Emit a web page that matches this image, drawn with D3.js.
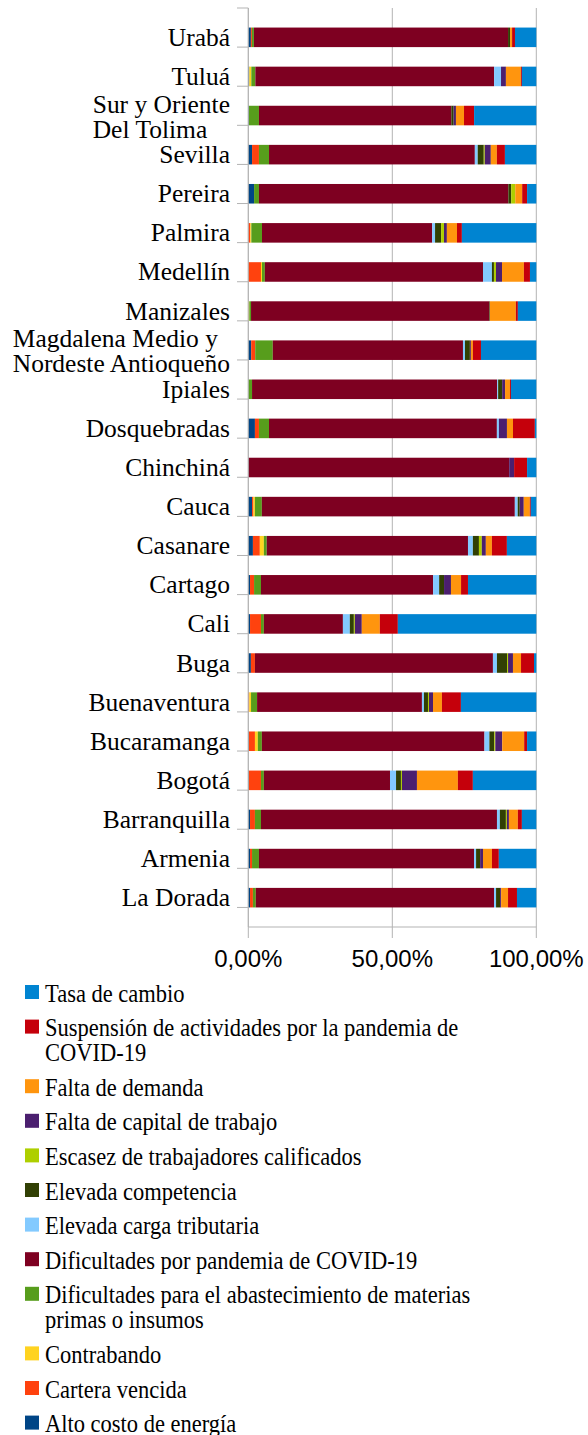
<!DOCTYPE html>
<html>
<head>
<meta charset="utf-8">
<script src="https://cdn.jsdelivr.net/npm/d3@7"></script>
<style>
  body { margin: 0; background: #fff; }
  svg { display: block; }
</style>
</head>
<body>
<div id="chart"></div>
<script>
// categories top to bottom ("\n" = label line break)
var categories = ["Urabá", "Tuluá", "Sur y Oriente\nDel Tolima", "Sevilla", "Pereira", "Palmira",
  "Medellín", "Manizales", "Magdalena Medio y\nNordeste Antioqueño", "Ipiales", "Dosquebradas",
  "Chinchiná", "Cauca", "Casanare", "Cartago", "Cali", "Buga", "Buenaventura", "Bucaramanga",
  "Bogotá", "Barranquilla", "Armenia", "La Dorada"]

// series values (percent), same order as categories
var altoCosto      = [0.9,0.35,0.2,1.3,2.0,0,0,0,1.0,0,2.3,0,1.3,1.6,0.6,0.6,0.9,0,0.2,0.2,0.6,0.6,0.6]
var carteraVencida = [0.35,0,0,2.4,0,0.7,4.4,0,1.4,0,1.4,0,0.5,2.4,1.4,3.8,1.4,0.35,2.1,4.2,1.7,0.7,1.0]
var contrabando    = [0,0.7,0,0,0,0.35,0.35,0.35,0,0,0,0,0.5,1.4,0,0,0,0.6,1.0,0,0,0,0]
var abastecimiento = [0.7,1.4,3.5,3.5,1.7,3.7,1.0,0.6,6.1,1.3,3.5,0,2.4,1.0,2.4,1.0,0,2.1,1.4,1.0,2.1,2.4,1.0]
var pandemia       = [88.2,82.9,66.8,71.5,86.5,59.0,75.7,82.8,66.0,85.1,79.2,90.5,87.8,69.8,59.7,27.4,82.6,57.3,77.1,43.75,81.9,74.65,82.6]
var cargaTrib      = [0,2.4,0,1.0,0,1.0,3.1,0,0.7,0.35,0.7,0,1.0,1.7,2.1,2.4,1.4,0.7,1.7,2.1,1.0,0.7,0.7]
var competencia    = [0.7,0,0.8,2.1,1.0,2.1,0.7,0.2,1.7,1.4,0,0,0.7,2.1,1.7,1.4,3.5,1.4,1.7,1.7,2.1,1.4,1.4]
var escasez        = [0,0,0,0.35,1.4,1.0,0.7,0,0,0,0,0,0,1.0,0,0.35,0.35,0.35,0.35,0.35,0.35,0,0]
var capital        = [0,1.7,0.8,2.1,0,1.0,2.1,0,0.35,1.0,2.8,1.7,1.4,1.4,2.4,2.4,1.7,1.4,2.4,5.2,0.7,1.0,0.35]
var demanda        = [0.7,5.2,2.8,2.1,2.4,3.5,7.6,9.0,0.7,1.7,2.1,0,2.1,2.1,3.5,6.25,2.8,3.1,7.6,14.2,3.1,3.1,2.4]
var suspension     = [1.0,0.35,3.5,2.8,1.7,1.7,2.1,0.7,2.8,0.35,7.6,4.5,0.35,5.2,2.4,6.25,4.5,6.6,1.0,5.2,1.4,2.4,3.1]
var tasaCambio     = [7.4,5.0,21.6,10.9,3.2,25.8,2.2,6.4,19.2,8.8,0.5,3.2,1.9,10.2,23.7,48.0,0.8,26.2,3.2,22.0,5.0,13.0,6.7]

// stack order, left to right
var seriesNames = ["Alto costo de energía", "Cartera vencida", "Contrabando",
  "Dificultades para el abastecimiento de materias primas o insumos",
  "Dificultades por pandemia de COVID-19", "Elevada carga tributaria", "Elevada competencia",
  "Escasez de trabajadores calificados", "Falta de capital de trabajo", "Falta de demanda",
  "Suspensión de actividades por la pandemia de COVID-19", "Tasa de cambio"]
var seriesValues = [altoCosto, carteraVencida, contrabando, abastecimiento, pandemia, cargaTrib,
  competencia, escasez, capital, demanda, suspension, tasaCambio]
var seriesColors = ["#004586", "#ff420e", "#ffd320", "#579d1c", "#7e0021", "#83caff",
  "#314004", "#aecf00", "#4b1f6f", "#ff950e", "#c5000b", "#0084d1"]
var tickValues = [0, 0.5, 1]

var W = 588, H = 1435
var svg = d3.select("#chart").append("svg")
  .attr("width", W).attr("height", H)
  .style("background", "#fff")

// rows for the stack
var rows = categories.map(function(c, i) {
  var r = {cat: c}
  seriesNames.forEach(function(s, j) { r[s] = seriesValues[j][i] })
  return r
})
var stacked = d3.stack().keys(seriesNames).offset(d3.stackOffsetExpand)(rows)

var x = d3.scaleLinear().domain([0, 1]).range([248.3, 536.3])
var y = d3.scaleBand().domain(categories).range([8, 927]).padding(0.5)
var color = d3.scaleOrdinal().domain(seriesNames).range(seriesColors)
var gridColor = "#b3b3b3"
var serif = "'Liberation Serif', 'DejaVu Serif', serif"

// gridlines
svg.append("g").selectAll("line").data(tickValues).enter().append("line")
  .attr("x1", function(d) { return x(d) }).attr("x2", function(d) { return x(d) })
  .attr("y1", 8).attr("y2", 927)
  .attr("stroke", gridColor).attr("stroke-width", 1)

// bars
svg.append("g").selectAll("g").data(stacked).enter().append("g")
  .attr("fill", function(d) { return color(d.key) })
  .selectAll("rect").data(function(d) { return d }).enter().append("rect")
  .attr("x", function(d) { return x(d[0]) })
  .attr("width", function(d) { return Math.max(0, x(d[1]) - x(d[0])) })
  .attr("y", function(d) { return y(d.data.cat) })
  .attr("height", y.bandwidth())

// left axis with ticks at band boundaries
var yAxis = svg.append("g")
yAxis.append("line").attr("x1", x(0)).attr("x2", x(0)).attr("y1", 8).attr("y2", 927)
  .attr("stroke", gridColor)
var bounds = d3.range(categories.length + 1).map(function(i) { return y.range()[0] + i * y.step() })
yAxis.selectAll(".yt").data(bounds).enter().append("line").attr("class", "yt")
  .attr("x1", 237).attr("x2", x(0))
  .attr("y1", function(d) { return d }).attr("y2", function(d) { return d })
  .attr("stroke", gridColor)

// category labels (slightly condensed like the original)
var labelRight = 230, catScale = 0.98
categories.forEach(function(c) {
  var lines = c.split("\n")
  var cy = y(c) + y.bandwidth() / 2
  var t = svg.append("text")
    .attr("font-family", serif)
    .attr("font-size", 26).attr("fill", "#000")
  lines.forEach(function(l, i) {
    t.append("tspan").text(l).attr("x", 0)
      .attr("y", cy + 8.5 + (i - (lines.length - 1) / 2) * 25 + (lines.length > 1 ? 1 : 0))
  })
  var maxW = 0
  t.selectAll("tspan").each(function() { maxW = Math.max(maxW, this.getComputedTextLength()) })
  t.attr("transform", "translate(" + (labelRight - maxW * catScale) + ",0) scale(" + catScale + ",1)")
})

// bottom axis
var xAxis = svg.append("g")
xAxis.append("line").attr("x1", x(0)).attr("x2", x(1)).attr("y1", 927).attr("y2", 927)
  .attr("stroke", gridColor)
xAxis.selectAll(".xt").data(tickValues).enter().append("line").attr("class", "xt")
  .attr("x1", function(d) { return x(d) }).attr("x2", function(d) { return x(d) })
  .attr("y1", 927).attr("y2", 938).attr("stroke", gridColor)
xAxis.selectAll("text").data(tickValues).enter().append("text")
  .attr("x", function(d) { return x(d) }).attr("y", 967)
  .attr("text-anchor", "middle")
  .attr("font-family", "'Liberation Sans', Arial, sans-serif")
  .attr("font-size", 24).attr("fill", "#000")
  .text(function(d) { return (d * 100).toFixed(2).replace(".", ",") + "%" })

// legend, reverse stack order
var legend = svg.append("g")
var legScale = 0.9
var ly = 1001.7
seriesNames.slice().reverse().forEach(function(s) {
  legend.append("rect").attr("x", 25).attr("y", ly - 16.7).attr("width", 14).attr("height", 14)
    .attr("fill", color(s))
  var t = legend.append("text")
    .attr("font-family", serif)
    .attr("font-size", 25).attr("fill", "#000")
    .attr("transform", "translate(45,0) scale(" + legScale + ",1)")
  // wrap words to width
  var words = s.split(" "), line = [], n = 0
  var ts = t.append("tspan").attr("x", 0).attr("y", ly)
  words.forEach(function(w) {
    line.push(w)
    ts.text(line.join(" "))
    if (ts.node().getComputedTextLength() * legScale > 490 && line.length > 1) {
      line.pop()
      ts.text(line.join(" "))
      line = [w]
      n++
      ts = t.append("tspan").attr("x", 0).attr("y", ly + n * 25).text(w)
    }
  })
  ly += 34.6 + n * 25
})
</script>
</body>
</html>
